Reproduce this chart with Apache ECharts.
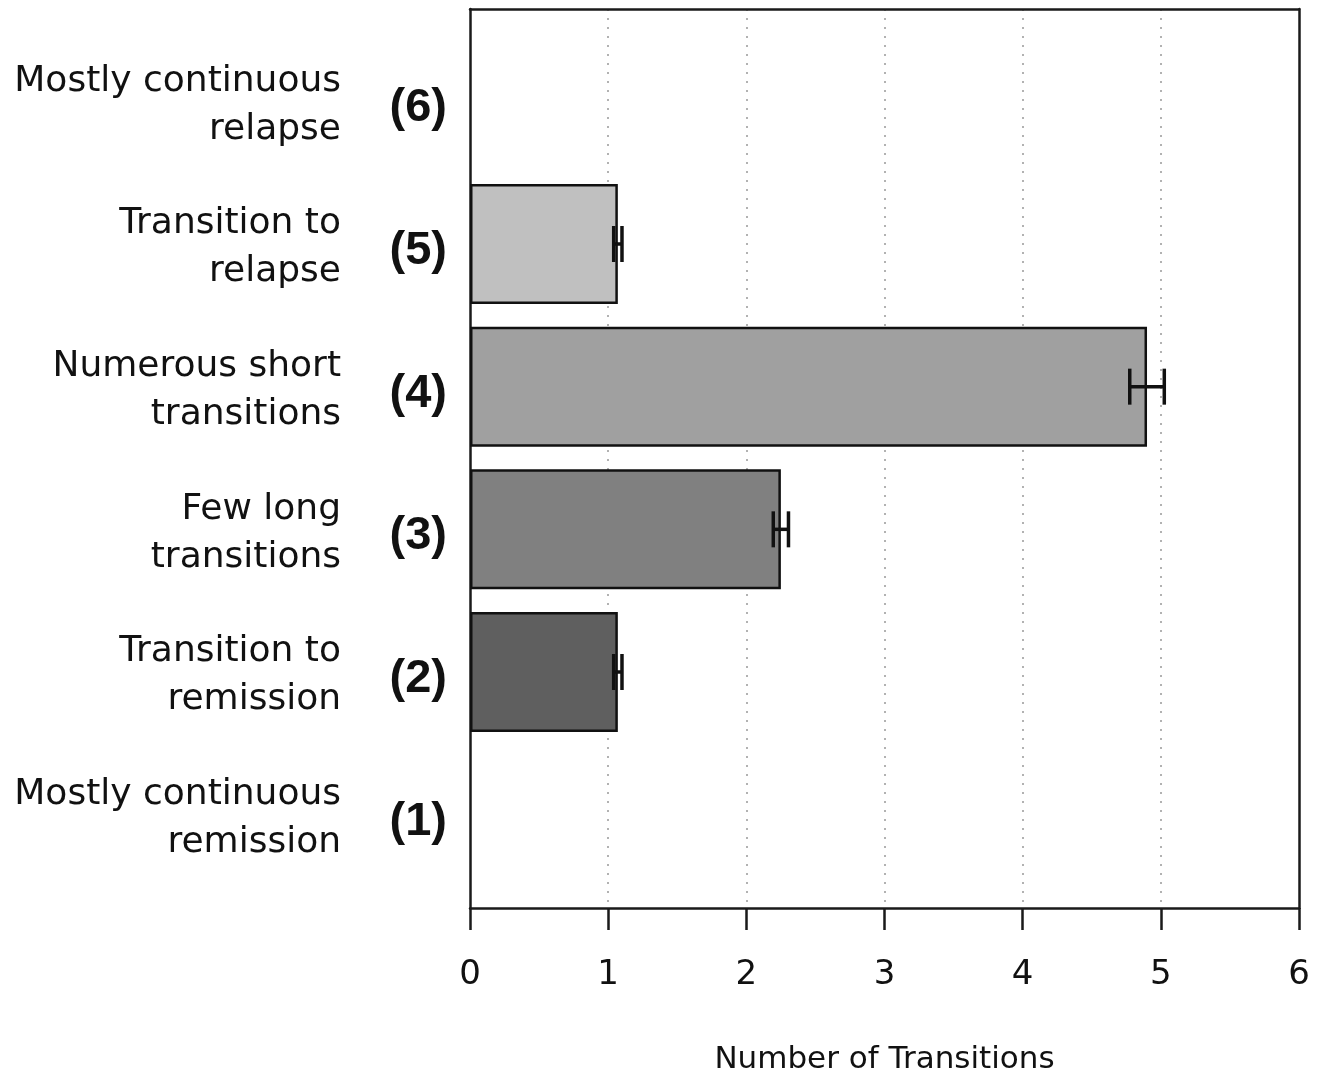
<!DOCTYPE html>
<html><head><meta charset="utf-8">
<script src="https://cdn.jsdelivr.net/npm/echarts@6/dist/echarts.min.js"></script>
<style>html,body{margin:0;padding:0;background:#fff}#c{width:1319px;height:1075px}</style>
</head><body><div id="c"></div>
<script>
const categories = ['Mostly continuous\nremission','Transition to\nremission','Few long\ntransitions','Numerous short\ntransitions','Transition to\nrelapse','Mostly continuous\nrelapse'];
const codes = ['(1)','(2)','(3)','(4)','(5)','(6)'];
const values = [null, 1.07, 2.25, 4.9, 1.07, null];
const errors = [null, 0.03, 0.055, 0.125, 0.03, null];
const barColors = ['#ffffff','#5f5f5f','#808080','#a0a0a0','#c0c0c0','#ffffff'];
const xTicks = [0,1,2,3,4,5,6];
const xTitle = 'Number of Transitions';

const FONT = '"DejaVu Sans", sans-serif';
const BFONT = '"Liberation Sans", Arial, sans-serif';
const chart = echarts.init(document.getElementById('c'));
const frameLine = {show: true, onZero: false, lineStyle: {color: '#1a1a1a', width: 2.5}};
const xmin = xTicks[0], xmax = xTicks[xTicks.length-1];
chart.setOption({
  animation: false,
  grid: [
    {left: 470, right: 20, top: 9, bottom: 167, outerBoundsMode: 'none', containLabel: false},
    {left: 470, right: 20, top: 30, bottom: 189, outerBoundsMode: 'none', containLabel: false},
    {left: 470, right: 20, top: 34, bottom: 185, outerBoundsMode: 'none', containLabel: false},
    {left: 470, right: 20, top: 37, bottom: 182, outerBoundsMode: 'none', containLabel: false}
  ],
  xAxis: [
    {gridIndex: 0, type: 'value', min: xmin, max: xmax, interval: 1,
     axisLine: frameLine,
     axisTick: {show: true, length: 22, lineStyle: {color: '#1a1a1a', width: 2.5}},
     axisLabel: {fontFamily: FONT, fontSize: 34, color: '#111', margin: 50},
     splitLine: {show: true, showMinLine: false, showMaxLine: false, lineStyle: {type: [2, 7], color: '#999', width: 1.5}},
     name: xTitle, nameLocation: 'middle', nameGap: 136,
     nameTextStyle: {fontFamily: FONT, fontSize: 31, color: '#111'}},
    {gridIndex: 0, type: 'value', position: 'top', min: xmin, max: xmax,
     axisLine: frameLine, axisTick: {show: false}, axisLabel: {show: false}, splitLine: {show: false}},
    {gridIndex: 1, type: 'value', min: xmin, max: xmax, show: false},
    {gridIndex: 2, type: 'value', min: xmin, max: xmax, show: false},
    {gridIndex: 3, type: 'value', min: xmin, max: xmax, show: false}
  ],
  yAxis: [
    {gridIndex: 0, type: 'value', min: 0, max: 1, position: 'left',
     axisLine: frameLine, axisTick: {show: false}, axisLabel: {show: false}, splitLine: {show: false}},
    {gridIndex: 0, type: 'value', min: 0, max: 1, position: 'right',
     axisLine: frameLine, axisTick: {show: false}, axisLabel: {show: false}, splitLine: {show: false}},
    {gridIndex: 1, type: 'category', data: codes, show: false},
    {gridIndex: 3, type: 'category', data: codes, position: 'left',
     axisLine: {show: false}, axisTick: {show: false}, splitLine: {show: false},
     axisLabel: {fontFamily: BFONT, fontSize: 47, fontWeight: 'bold', color: '#111', margin: 23}},
    {gridIndex: 2, type: 'category', data: categories, position: 'left',
     axisLine: {show: false}, axisTick: {show: false}, splitLine: {show: false},
     axisLabel: {fontFamily: FONT, fontSize: 36, color: '#111', margin: 129, lineHeight: 48, align: 'right'}}
  ],
  series: [
    {type: 'bar', xAxisIndex: 2, yAxisIndex: 2, barWidth: 120,
     data: values.map((v, i) => ({value: v, itemStyle: {color: barColors[i], borderColor: '#111', borderWidth: 2.5}})),
     z: 3},
    {type: 'custom', xAxisIndex: 2, yAxisIndex: 2, z: 5,
     data: values.map((v, i) => v == null ? [i, null, null] : [i, v - errors[i], v + errors[i]]),
     encode: {y: 0, x: [1, 2]},
     renderItem: function (params, api) {
       const i = api.value(0), lo = api.value(1), hi = api.value(2);
       if (lo == null || isNaN(lo)) return null;
       const p1 = api.coord([lo, i]), p2 = api.coord([hi, i]);
       const h = 18;
       const st = {stroke: '#111', lineWidth: 3.5};
       return {type: 'group', children: [
         {type: 'line', shape: {x1: p1[0], y1: p1[1], x2: p2[0], y2: p2[1]}, style: st},
         {type: 'line', shape: {x1: p1[0], y1: p1[1]-h, x2: p1[0], y2: p1[1]+h}, style: st},
         {type: 'line', shape: {x1: p2[0], y1: p2[1]-h, x2: p2[0], y2: p2[1]+h}, style: st}
       ]};
     }}
  ]
});
</script></body></html>
